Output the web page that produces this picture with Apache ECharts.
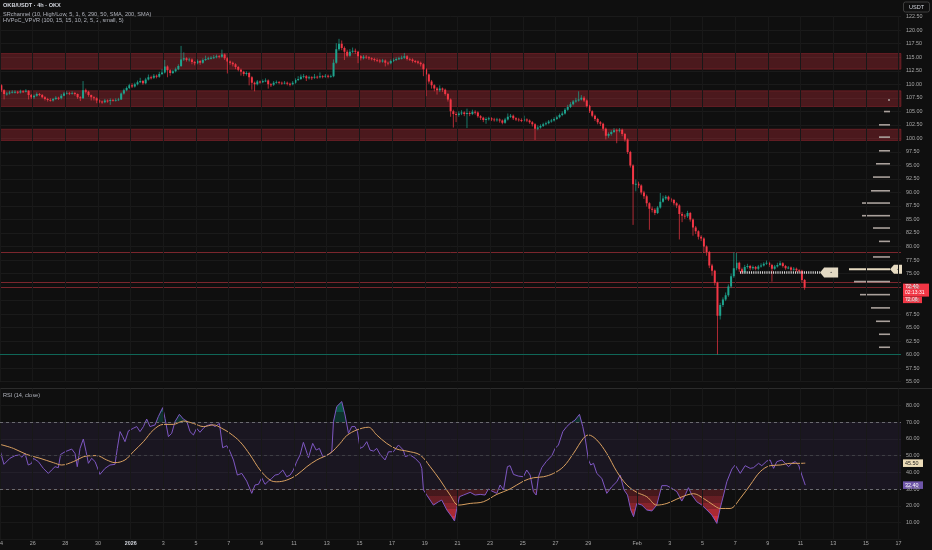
<!DOCTYPE html>
<html><head><meta charset="utf-8">
<script src="https://cdn.jsdelivr.net/npm/echarts@6/dist/echarts.min.js"></script>
<style>html,body{margin:0;padding:0;background:#0f0f0f;}#c{width:932px;height:550px;}</style>
</head><body><div id="c"></div>
<script>
// ---------- DATA ----------
const firstOpen = 109.8;
const closes = [
108.9,108.2,108.3,108.5,108.6,108.6,108.5,108.7,108.6,108.8,
108.0,107.6,107.9,108.2,108.0,107.6,107.3,107.1,107.0,107.3,
107.5,107.4,107.9,108.3,108.4,108.3,108.4,108.2,107.6,107.4,
108.9,108.6,108.0,107.6,107.4,107.0,106.8,106.7,107.0,106.9,
107.1,107.0,107.1,107.2,108.3,108.9,109.3,109.8,109.6,110.0,
110.4,110.6,110.2,110.9,111.3,111.2,111.6,111.4,111.9,112.2,
113.3,112.6,112.1,112.4,112.8,113.4,114.6,114.8,114.5,114.6,
114.1,113.9,114.3,114.0,114.5,114.7,114.8,114.9,115.0,115.2,
115.1,115.5,114.8,114.2,114.0,113.7,113.2,112.7,112.3,111.9,
112.1,111.3,110.3,110.0,110.5,110.4,110.6,110.7,110.0,109.9,
110.3,110.4,110.3,110.2,110.3,110.1,110.0,110.3,110.8,111.0,
111.4,111.5,111.1,111.3,111.2,111.4,111.3,111.5,111.4,111.6,
111.4,111.5,114.0,116.5,117.5,116.7,116.0,115.3,116.0,116.2,
116.0,115.2,114.8,115.1,115.0,114.8,114.7,114.5,114.4,114.3,
114.4,114.0,113.9,114.3,114.5,114.7,114.8,114.9,115.2,114.7,
114.6,114.3,114.2,114.0,113.7,112.8,111.8,110.5,109.8,109.2,
108.9,109.2,109.0,108.2,107.2,105.0,104.5,104.3,104.6,104.8,
104.5,104.7,104.5,104.9,104.8,104.1,103.8,103.4,103.6,103.7,
103.5,103.4,103.5,103.3,102.9,103.5,104.0,104.2,103.7,103.5,
103.4,103.3,103.5,103.3,103.0,102.6,101.8,102.0,102.3,102.6,
102.8,103.1,103.3,103.6,103.9,104.3,104.6,105.3,105.8,106.3,
106.8,107.0,107.2,107.5,107.0,106.0,105.0,104.2,103.6,103.0,
102.7,101.8,100.5,100.8,101.2,101.5,101.4,101.6,100.8,99.8,
97.5,95.0,91.5,91.6,91.3,90.0,89.3,88.0,87.0,86.8,
86.2,87.2,88.3,88.9,89.2,88.7,88.6,88.0,87.6,86.0,
85.7,85.6,86.2,85.0,83.5,82.8,81.8,81.5,80.0,79.0,
76.5,75.5,73.3,67.2,69.2,70.2,71.0,72.6,74.5,76.0,
77.0,75.8,75.3,76.2,76.4,76.0,76.2,75.9,76.3,76.5,
76.8,77.0,76.6,75.9,76.3,76.6,76.9,76.4,76.0,76.1,
75.7,75.9,75.6,75.5,73.8,72.4];
const highs = [
110.0,109.1,108.6,108.8,108.9,108.9,108.8,109.0,108.9,109.1,
108.9,108.2,108.1,108.5,108.4,108.2,107.8,107.5,107.4,107.5,
107.8,107.7,108.2,108.6,108.7,108.6,108.7,108.6,108.3,107.8,
110.6,109.2,108.8,108.1,107.8,107.6,107.2,107.0,107.3,107.2,
107.4,107.3,107.4,107.5,108.5,109.2,109.6,110.1,110.2,110.3,
110.7,111.2,110.8,111.2,111.8,111.6,111.9,111.8,112.3,112.8,
114.5,113.5,112.8,112.7,113.1,113.7,117.1,115.9,115.0,114.9,
114.8,114.3,114.6,114.5,114.8,115.3,115.1,115.2,115.4,115.5,
115.4,116.4,115.7,115.0,114.4,114.2,113.9,113.4,112.9,112.5,
112.4,112.3,111.5,110.5,110.8,110.7,110.9,111.1,110.9,110.2,
110.6,110.7,110.6,110.5,110.6,110.5,110.3,110.6,111.1,111.5,
111.8,111.9,111.7,111.6,111.5,111.9,111.6,112.2,111.7,111.9,
111.8,111.8,114.6,117.6,118.4,118.1,117.0,116.4,116.5,116.8,
116.6,116.2,115.4,115.4,115.4,115.2,115.0,114.9,114.8,114.7,
114.7,114.6,114.2,114.6,114.8,115.0,115.1,115.3,115.8,115.4,
114.9,114.8,114.5,114.4,114.2,113.9,113.0,112.0,110.8,110.0,
109.5,109.8,109.4,109.2,108.4,107.4,105.3,104.9,105.0,105.2,
105.0,105.5,105.0,105.3,105.2,105.0,104.3,104.0,103.9,104.0,
103.9,103.8,103.8,103.7,103.5,103.8,104.6,104.5,104.4,103.9,
103.8,103.7,104.2,103.7,103.5,103.2,102.8,102.4,102.6,102.9,
103.1,103.4,103.6,103.9,104.2,104.6,105.0,105.6,106.2,106.7,
107.1,107.5,108.7,108.0,107.8,107.2,106.2,105.2,104.4,103.8,
103.2,102.9,102.0,101.1,101.5,101.9,101.8,101.9,101.8,101.0,
100.0,97.7,95.2,92.4,92.0,91.5,90.3,89.6,88.2,87.4,
87.1,87.5,89.9,89.4,89.5,89.4,89.0,88.8,88.2,87.8,
86.4,86.0,86.6,86.4,85.2,83.8,83.0,82.1,81.7,80.2,
79.2,76.8,75.7,73.5,69.6,70.6,71.5,73.0,75.0,78.9,
78.8,77.2,76.1,76.6,76.8,76.6,76.5,76.4,76.6,76.9,
77.1,77.4,77.2,76.8,76.6,77.0,77.3,77.1,76.6,76.4,
76.3,76.2,76.1,75.8,75.7,74.0];
const lows = [
108.6,107.2,107.9,108.1,108.3,108.3,108.2,108.3,108.4,108.5,
107.2,107.3,107.3,107.7,107.8,107.4,107.0,106.8,106.8,106.8,
107.1,107.1,107.2,107.8,108.1,108.0,108.1,107.9,107.3,106.9,
107.3,108.3,107.7,107.0,107.0,106.5,106.5,106.4,106.5,106.6,
106.2,106.8,106.8,106.9,107.1,108.1,108.7,109.1,109.3,109.4,
109.8,110.2,109.9,110.0,110.7,110.9,111.0,111.1,111.2,111.7,
112.0,111.3,111.6,111.9,112.2,112.6,113.2,114.3,114.2,114.2,
113.7,113.5,113.7,113.6,113.8,114.3,114.5,114.6,114.7,114.8,
114.8,114.9,114.5,112.0,113.6,113.3,112.8,112.4,111.6,111.5,
111.6,109.8,109.0,108.7,109.8,110.1,110.2,110.4,109.2,109.5,
109.7,110.1,110.0,109.9,110.0,109.8,109.6,109.8,110.1,110.6,
110.8,111.1,110.6,110.9,110.8,111.0,111.0,111.1,111.1,111.2,
111.1,111.2,111.3,113.8,116.2,116.3,114.5,115.0,115.1,115.8,
115.6,113.9,114.4,114.6,114.7,114.5,114.4,114.2,114.1,113.9,
114.0,113.3,113.5,113.7,114.1,114.3,114.5,114.6,114.7,114.4,
114.3,114.0,113.9,113.7,113.3,111.5,107.8,110.1,109.2,108.7,
108.1,108.6,108.6,107.9,106.8,104.0,102.0,103.0,104.0,104.3,
104.1,101.9,104.1,104.3,104.4,103.8,103.4,103.0,102.7,103.3,
103.2,103.1,103.1,102.9,102.6,102.7,103.3,103.8,103.4,103.2,
103.1,103.0,103.1,103.0,102.7,102.2,99.7,101.5,101.8,102.1,
102.4,102.6,102.9,103.1,103.4,103.7,104.1,104.4,105.1,105.6,
106.1,106.6,106.8,107.0,106.7,105.7,104.7,103.9,103.2,102.6,
102.3,101.4,99.8,100.1,100.5,101.0,99.1,101.1,100.4,99.4,
97.1,94.6,84.0,90.2,90.8,89.6,88.8,87.4,83.1,86.3,
85.8,86.0,87.0,88.1,88.6,88.4,88.2,87.6,87.1,81.3,
84.5,85.1,85.3,84.6,82.0,82.3,81.3,81.0,78.8,78.3,
76.0,74.6,72.8,60.0,66.5,68.8,69.9,70.7,72.3,74.2,
75.6,75.3,74.9,75.0,75.9,75.6,75.7,75.6,75.6,76.1,
76.3,76.6,76.2,73.5,75.7,76.1,76.4,76.1,75.7,75.8,
75.4,75.5,75.3,75.2,73.4,72.0];

// x axis: days since Dec 24 00:00 (4h candles)
const xTickDays = [0,2,4,6,8,10,12,14,16,18,20,22,24,26,28,30,32,34,36,39,41,43,45,47,49,51,53,55];
const xTickLabels = ['24','26','28','30','2026','3','5','7','9','11','13','15','17','19','21','23','25','27','29','Feb','3','5','7','9','11','13','15','17'];

// support / resistance zones and levels
const zones = [[112.8,115.7],[105.9,108.8],[99.6,101.7]];
const redLevels = [79.05,73.5,72.45];
const greenLevels = [60.0];

// volume profile (price, relative volume)
const vpPrices = [107.1,104.96,102.5,100.23,97.7,95.3,92.84,90.3,88.04,85.7,83.42,80.95,78.07,75.78,73.5,71.1,68.65,66.17,63.77,61.37];
const vpVols   = [2,6,11,11,11,14,17,19,28,28,17,11,17,41,36,30,19,14,11,11];
const pocPrice = 75.78;
const pocLine = {price:75.2, fromDay:45.3, tagDay:50.2};

// RSI (day, value)
const rsiPoints = [[0.00,53.3],[0.24,44.8],[0.61,48.4],[0.92,50.0],[1.22,50.4],[1.33,49.0],[1.53,51.3],[1.73,44.4],[1.94,45.4],[2.04,48.4],[2.35,46.4],[2.65,42.4],[2.96,39.4],[3.16,41.4],[3.37,43.4],[3.57,42.8],[3.71,50.7],[3.98,52.3],[4.39,53.9],[4.59,51.3],[4.73,43.4],[4.90,54.3],[5.10,59.9],[5.27,52.3],[5.41,45.4],[5.61,48.4],[5.82,46.4],[6.12,38.8],[6.43,42.4],[6.73,44.4],[7.04,44.8],[7.18,54.3],[7.35,64.3],[7.51,61.3],[7.65,58.3],[7.86,64.7],[8.16,66.3],[8.37,67.3],[8.57,64.3],[8.78,67.3],[8.98,71.8],[9.18,67.3],[9.49,68.3],[9.69,73.2],[9.96,78.6],[10.10,72.2],[10.31,61.3],[10.51,63.3],[10.71,70.2],[10.98,74.6],[11.22,71.8],[11.43,70.6],[11.63,64.3],[11.84,62.3],[12.04,66.3],[12.24,63.9],[12.45,66.3],[12.65,67.9],[12.96,68.6],[13.16,67.3],[13.43,69.2],[13.63,54.7],[13.88,55.9],[14.08,52.3],[14.29,47.4],[14.53,38.4],[14.80,39.4],[15.10,34.8],[15.41,27.5],[15.61,32.5],[15.82,32.9],[16.02,36.8],[16.22,32.9],[16.43,34.8],[16.63,36.4],[16.84,38.4],[17.04,38.8],[17.31,41.4],[17.55,37.4],[17.76,38.4],[17.96,41.4],[18.16,46.4],[18.37,50.4],[18.57,57.9],[18.73,53.3],[18.88,48.8],[19.14,57.3],[19.35,53.3],[19.55,54.3],[19.76,49.4],[20.10,50.7],[20.31,52.3],[20.41,70.2],[20.61,79.2],[20.92,82.2],[21.12,74.2],[21.33,63.3],[21.53,67.3],[21.73,67.3],[21.88,64.3],[22.04,54.3],[22.24,55.3],[22.45,58.3],[22.65,53.3],[22.86,52.7],[23.06,54.3],[23.27,50.7],[23.57,47.4],[23.78,52.3],[24.08,52.3],[24.39,56.3],[24.69,53.3],[24.80,49.4],[25.10,50.4],[25.41,48.4],[25.71,45.4],
[25.82,42.4],[25.92,29.5],[26.12,26.5],[26.53,20.5],[26.84,22.5],[27.04,23.5],[27.35,17.6],[27.65,13.6],[27.82,11.0],[27.96,18.5],[28.12,25.5],[28.37,26.5],[28.78,28.1],[29.08,26.5],[29.39,26.9],[29.69,26.5],[29.90,30.1],[30.10,28.9],[30.41,27.5],[30.61,32.5],[30.82,29.5],[31.06,43.4],[31.22,44.0],[31.43,38.8],[31.73,37.8],[32.04,37.4],[32.24,41.4],[32.45,38.4],[32.65,28.5],[32.82,26.5],[32.96,37.4],[33.16,42.8],[33.43,46.4],[33.78,50.0],[33.98,54.3],[34.18,56.3],[34.45,64.3],[34.69,67.3],[34.90,69.2],[35.20,71.2],[35.47,74.6],[35.67,67.3],[35.82,60.3],[36.02,47.4],[36.16,44.4],[36.33,45.4],[36.53,39.4],[36.84,36.4],[37.14,27.5],[37.45,31.5],[37.76,34.5],[37.96,38.4],[38.20,29.5],[38.41,26.5],[38.61,17.6],[38.78,13.6],[38.98,21.5],[39.29,20.5],[39.59,17.6],[39.90,17.0],[40.20,20.5],[40.51,32.1],[40.82,32.1],[41.12,30.5],[41.43,28.5],[41.73,22.9],[41.94,26.5],[42.14,30.9],[42.35,26.5],[42.65,22.5],[42.96,20.5],[43.27,17.6],[43.57,14.6],[43.88,9.6],[44.08,18.5],[44.29,26.5],[44.49,34.5],[44.80,42.0],[45.00,44.4],[45.31,39.4],[45.61,44.0],[45.92,42.4],[46.12,42.8],[46.43,45.4],[46.63,44.0],[46.94,46.8],[47.14,47.4],[47.35,42.4],[47.55,46.4],[47.86,47.4],[48.06,45.4],[48.27,43.4],[48.47,45.4],[48.67,46.4],[48.88,44.4],[49.08,38.4],[49.29,32.4]];

// RSI-based moving average (day, value)
const maPoints = [[0.00,56.7],[0.82,54.3],[1.63,50.7],[2.45,48.4],[3.27,45.8],[3.78,44.4],[4.49,46.4],[5.31,49.8],[5.92,50.0],[6.53,47.4],[7.04,45.8],[7.65,47.4],[8.16,52.3],[8.78,58.3],[9.39,65.3],[10.00,68.6],[10.61,68.6],[11.22,70.6],[11.84,69.2],[12.45,67.3],[13.06,68.3],[13.57,66.3],[14.08,63.3],[14.69,58.3],[15.31,50.4],[15.92,41.4],[16.53,35.4],[16.94,34.4],[17.55,35.4],[18.16,38.4],[18.78,43.4],[19.39,47.4],[20.20,51.3],[20.82,57.3],[21.22,61.9],[21.84,65.3],[22.55,66.9],[23.06,62.3],[23.67,57.3],[24.29,53.9],[24.90,52.7],[25.71,50.4],[26.33,43.4],[26.94,35.4],[27.55,26.5],[28.06,20.5],[28.78,21.5],[29.59,22.5],[30.41,26.9],[31.22,30.1],[32.04,34.8],[32.65,36.8],[33.27,37.4],[33.88,39.4],[34.49,43.4],[35.10,51.3],[35.71,60.3],[36.02,62.3],[36.53,59.3],[37.14,51.3],[37.76,40.4],[38.37,32.5],[38.98,28.1],[39.59,25.5],[40.20,20.5],[40.82,21.5],[41.43,24.1],[42.04,26.5],[42.45,27.3],[43.06,24.5],[43.67,20.5],[44.08,18.5],[44.69,18.5],[45.31,24.5],[45.92,32.5],[46.53,40.4],[47.14,44.0],[47.76,44.4],[48.37,45.4],[48.98,45.4],[49.29,45.5]];

// ---------- CHART ----------
const UP = '#1ea38d', DOWN = '#f23645';
const FONT = '"Liberation Sans", Arial, sans-serif';
const CANDLE_DAYS = 4/24;
const candles = closes.map((c,i)=>[i*CANDLE_DAYS + CANDLE_DAYS/2, i===0?firstOpen:closes[i-1], c, lows[i], highs[i]]);
const vpData = vpPrices.map((p,k)=>[vpVols[k], p]);
const levelData = redLevels.map(v=>[0, v]);
const X_MAX = 55.15;

const chart = echarts.init(document.getElementById('c'), null, {renderer:'canvas'});
const axisLabelStyle = {color:'#a8a8a8', fontSize:5.4, fontFamily:FONT};

const option = {
  backgroundColor:'#0f0f0f',
  animation:false,
  grid:[
    {left:0, top:16.7, width:901, height:365, containLabel:false, outerBoundsMode:'none'},
    {left:0, top:388.5, width:901, height:151, containLabel:false, outerBoundsMode:'none'}
  ],
  xAxis:[
    {type:'value', gridIndex:0, min:0, max:X_MAX, interval:1, show:false, splitLine:{show:false}},
    {type:'value', gridIndex:1, min:0, max:X_MAX, interval:1,
      axisLine:{show:false}, axisTick:{show:false}, splitLine:{show:false},
      axisLabel:Object.assign({}, axisLabelStyle, {margin:2, showMinLabel:true, showMaxLabel:true,
        formatter:(v)=>{const k = xTickDays.indexOf(v); if(k<0) return ''; const t = xTickLabels[k]; return t==='2026' ? '{b|2026}' : t;},
        rich:{b:{fontWeight:'bold', color:'#d1d4dc', fontSize:5.4, fontFamily:FONT}}})}
  ],
  yAxis:[
    {type:'value', gridIndex:0, position:'right', min:55, max:122.5, interval:2.5,
      axisLine:{show:true, lineStyle:{color:'#262626'}}, axisTick:{show:false},
      splitLine:{show:true, lineStyle:{color:'#1a1a1a', width:1}},
      axisLabel:Object.assign({}, axisLabelStyle, {margin:5, formatter:(v)=>v.toFixed(2)})},
    {type:'value', gridIndex:1, position:'right', min:0, max:90, interval:10,
      axisLine:{show:true, lineStyle:{color:'#262626'}}, axisTick:{show:false},
      splitLine:{show:true, lineStyle:{color:'#191919', width:1}},
      axisLabel:Object.assign({}, axisLabelStyle, {margin:5, formatter:(v)=> (v===0||v===90)?'':v.toFixed(2)})}
  ],
  visualMap:[{
    type:'piecewise', show:false, seriesIndex:4, dimension:1,
    pieces:[
      {lt:14, color:'rgba(242,54,69,0.85)'},
      {gte:14, lt:18, color:'rgba(242,54,69,0.68)'},
      {gte:18, lt:22, color:'rgba(242,54,69,0.52)'},
      {gte:22, lt:26, color:'rgba(242,54,69,0.38)'},
      {gte:26, lt:30, color:'rgba(242,54,69,0.24)'},
      {gte:30, lt:70, color:'rgba(0,0,0,0)'},
      {gte:70, lt:76, color:'rgba(8,153,129,0.25)'},
      {gte:76, color:'rgba(8,153,129,0.5)'}
    ]
  }],
  series:[
    { // 0 zones, vertical grid, support level (price pane)
      type:'line', xAxisIndex:0, yAxisIndex:0, data:[[0,55]], symbol:'none', lineStyle:{opacity:0}, z:1, silent:true,
      markArea:{silent:true, itemStyle:{color:'rgba(242,54,69,0.27)', borderColor:'rgba(242,54,69,0.35)', borderWidth:0.8},
        data: zones.map(z=>[{yAxis:z[0]},{yAxis:z[1]}])},
      markLine:{silent:true, symbol:['none','none'], label:{show:false},
        data: [].concat(
          xTickDays.map(d=>({xAxis:d, lineStyle:{color:'#181818', width:1, type:'solid', opacity:1}})),
          greenLevels.map(v=>({yAxis:v, lineStyle:{color:'rgba(8,153,129,0.6)', width:1, type:'solid', opacity:1}}))
        )}
    },
    { // 1 candles
      type:'custom', xAxisIndex:0, yAxisIndex:0, data:candles, z:3, clip:true,
      encode:{x:0, y:[1,2,3,4]},
      renderItem:(params, api)=>{
        const x=api.value(0), o=api.value(1), c=api.value(2), l=api.value(3), h=api.value(4);
        const pO=api.coord([x,o]), pC=api.coord([x,c]), pL=api.coord([x,l]), pH=api.coord([x,h]);
        const col = c>=o ? UP : DOWN;
        const w = 2.0;
        const top = Math.min(pO[1],pC[1]);
        const hh = Math.max(Math.abs(pO[1]-pC[1]), 0.9);
        return {type:'group', children:[
          {type:'line', shape:{x1:pO[0], y1:pH[1], x2:pO[0], y2:pL[1]}, style:{stroke:col, lineWidth:1, opacity:0.7}},
          {type:'rect', shape:{x:pO[0]-w/2, y:top, width:w, height:hh}, style:{fill:col}}
        ]};
      }
    },
    { // 2 volume profile
      type:'custom', xAxisIndex:0, yAxisIndex:0, data:vpData, z:4, encode:{x:0, y:1},
      renderItem:(params, api)=>{
        const vol=api.value(0), price=api.value(1);
        const y = api.coord([0, price])[1];
        const right = params.coordSys.x + params.coordSys.width - 11;
        const isPoc = price===pocPrice;
        const children = [{type:'line', shape:{x1:right-vol, y1:y, x2:right, y2:y},
          style:{stroke: isPoc ? '#e8dcc2' : '#aaa19c', lineWidth: isPoc?2:1.6}}];
        if (isPoc) {
          const x = right;
          children.push({type:'polygon', shape:{points:[[x,y],[x+4,y-4.5],[x+12,y-4.5],[x+12,y+4.5],[x+4,y+4.5]]}, style:{fill:'#e8dcc2'}});
          children.push({type:'circle', shape:{cx:x+8, cy:y, r:0.6}, style:{fill:'#333'}});
        }
        return {type:'group', children};
      }
    },
    { // 3 POC dotted line + tag
      type:'custom', xAxisIndex:0, yAxisIndex:0, data:[[pocLine.fromDay, pocLine.price, pocLine.tagDay]], z:5,
      encode:{x:0, y:1},
      renderItem:(params, api)=>{
        const p1 = api.coord([api.value(0), api.value(1)]);
        const p2 = api.coord([api.value(2), api.value(1)]);
        const x=p2[0], y=p2[1];
        return {type:'group', children:[
          {type:'line', shape:{x1:p1[0], y1:y, x2:x, y2:y}, style:{stroke:'#e6e6e6', lineWidth:2.5, lineDash:[1,1.2]}},
          {type:'polygon', shape:{points:[[x,y],[x+4,y-5],[x+18,y-5],[x+18,y+5],[x+4,y+5]]}, style:{fill:'#e3d9c3'}},
          {type:'circle', shape:{cx:x+11, cy:y, r:0.6}, style:{fill:'#444'}}
        ]};
      }
    },
    { // 4 RSI overbought / oversold fill
      type:'line', xAxisIndex:1, yAxisIndex:1, data:rsiPoints, symbol:'none', z:2, silent:true,
      lineStyle:{width:0, opacity:0}, areaStyle:{origin:30, opacity:1}
    },
    { // 5 RSI line
      type:'line', xAxisIndex:1, yAxisIndex:1, data:rsiPoints, symbol:'none', z:4, silent:true,
      lineStyle:{color:'#7e57c2', width:1}, itemStyle:{color:'#7e57c2'},
      markArea:{silent:true, itemStyle:{color:'rgba(126,87,194,0.1)'}, data:[[{yAxis:30},{yAxis:70}]]},
      markLine:{silent:true, symbol:['none','none'], label:{show:false},
        data:[].concat(
          xTickDays.map(d=>({xAxis:d, lineStyle:{color:'#181818', width:1, type:'solid'}})),
          [{yAxis:70, lineStyle:{color:'#6a6a70', width:1, type:[3,3]}},
           {yAxis:50, lineStyle:{color:'#3e3e44', width:1, type:[3,3]}},
           {yAxis:30, lineStyle:{color:'#6a6a70', width:1, type:[3,3]}}]
        )}
    },
    { // 6 RSI MA
      type:'line', xAxisIndex:1, yAxisIndex:1, data:maPoints, symbol:'none', smooth:0.35, z:4, silent:true,
      lineStyle:{color:'#d9a060', width:1}, itemStyle:{color:'#d9a060'}
    },
    { // 7 horizontal resistance levels
      type:'custom', xAxisIndex:0, yAxisIndex:0, data:levelData, z:2, encode:{x:0, y:1}, silent:true,
      renderItem:(params, api)=>{
        const y = Math.round(api.coord([0, api.value(1)])[1]) + 0.5;
        const cs = params.coordSys;
        return {type:'line', shape:{x1:cs.x, y1:y, x2:cs.x+cs.width, y2:y},
          style:{stroke:'#7a262d', lineWidth:1}};
      }
    }
  ]
};
chart.setOption(option);

// ---------- labels ----------
const lastClose = closes[closes.length-1];
const lastRsi = rsiPoints[rsiPoints.length-1][1];
const lastMa = maPoints[maPoints.length-1][1];
const yPrice = chart.convertToPixel({yAxisIndex:0}, lastClose);
const yRsi = chart.convertToPixel({yAxisIndex:1}, lastRsi);
const yMa = chart.convertToPixel({yAxisIndex:1}, lastMa);
const tStyle = (text, x, y, fill, size, weight, align) => ({type:'text', x, y, silent:true,
  style:{text, fill, fontSize:size, fontFamily:FONT, fontWeight:weight||'normal', align:align||'left', verticalAlign:'middle'}});

chart.setOption({graphic:[
  tStyle('OKB/USDT · 4h · OKX', 3, 5.7, '#d1d4dc', 5.6, 'bold'),
  tStyle('SRchannel (10, High/Low, 5, 1, 6, 290, 50, SMA, 200, SMA)', 3, 14, '#b2b5be', 5.6),
  tStyle('HVPoC_VPVR (100, 15, 15, 10, 2, 5, 2, small, 5)', 3, 20.8, '#b2b5be', 5.6),
  tStyle('RSI (14, close)', 3, 395, '#b2b5be', 5.6),
  {type:'line', silent:true, shape:{x1:0, y1:388.5, x2:932, y2:388.5}, style:{stroke:'#2c2c2c', lineWidth:1}},
  {type:'rect', silent:true, shape:{x:903.5, y:2, width:26, height:10, r:2}, style:{fill:'#0f0f0f', stroke:'#4a4a4a', lineWidth:0.8}},
  tStyle('USDT', 916.5, 7.2, '#d1d4dc', 5.6, 'normal', 'center'),
  {type:'rect', silent:true, shape:{x:903, y:yPrice-4, width:26, height:13}, style:{fill:'#f23645'}},
  {type:'rect', silent:true, shape:{x:903, y:yPrice+9, width:19, height:6.5}, style:{fill:'#f23645'}},
  tStyle(lastClose.toFixed(2), 905, yPrice-0.6, '#ffffff', 5.4),
  tStyle('02:13:31', 905, yPrice+5.4, '#ffffff', 5.0),
  tStyle('72.06', 905, yPrice+12.2, '#ffffff', 5.0),
  {type:'rect', silent:true, shape:{x:903, y:yMa-3.8, width:20, height:7.6}, style:{fill:'#ecdcb8'}},
  tStyle(lastMa.toFixed(2), 905, yMa, '#1a1a1a', 5.4),
  {type:'rect', silent:true, shape:{x:903, y:yRsi-3.8, width:20, height:7.6}, style:{fill:'#6e55a8'}},
  tStyle(lastRsi.toFixed(2), 905, yRsi, '#ffffff', 5.4)
]});
</script>
</body></html>
